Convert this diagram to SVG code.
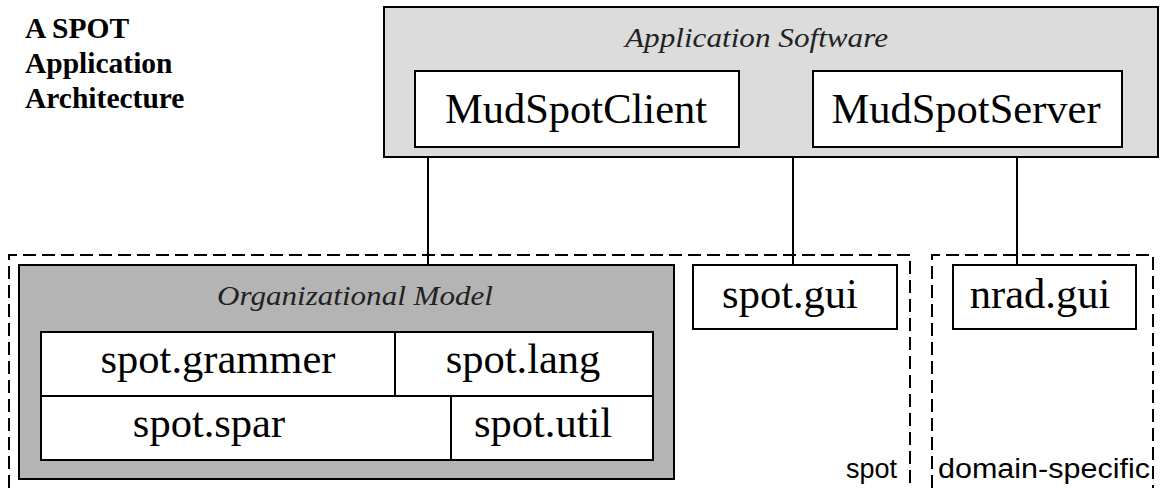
<svg xmlns="http://www.w3.org/2000/svg" width="1161" height="488" viewBox="0 0 1161 488">
<style>
.box{fill:#ffffff;stroke:#000;stroke-width:2}
.line{stroke:#000;stroke-width:2;fill:none}
.dash{stroke:#000;stroke-width:2;fill:none;stroke-dasharray:13 6}
.lbl{font-family:"Liberation Serif",serif;font-size:42.5px;fill:#000}
.ital{font-family:"Liberation Serif",serif;font-style:italic;font-size:27px;fill:#222}
.title{font-family:"Liberation Serif",serif;font-weight:bold;font-size:29.5px;fill:#000}
.pkg{font-family:"Liberation Sans",sans-serif;font-size:27px;fill:#000}
</style>
<rect width="1161" height="488" fill="#fff"/>
<g id="title">
<text class="title" x="25" y="38">A SPOT</text>
<text class="title" x="25" y="73">Application</text>
<text class="title" x="25" y="108">Architecture</text>
</g>
<g id="spot-pkg">
<path class="dash" d="M9,488 V255 H910 V488"/>
<text class="pkg" x="897" y="478" text-anchor="end">spot</text>
</g>
<g id="domain-pkg">
<path class="dash" d="M932,488 V255 H1153 V488"/>
<text class="pkg" x="938" y="478" textLength="212" lengthAdjust="spacingAndGlyphs">domain-specific</text>
</g>
<g id="connectors">
<line class="line" x1="739" y1="113.5" x2="813" y2="113.5"/>
<line class="line" x1="428" y1="157" x2="428" y2="265"/>
<line class="line" x1="793" y1="157" x2="793" y2="265"/>
<line class="line" x1="1017" y1="157" x2="1017" y2="265"/>
</g>
<g id="application-software">
<rect x="384" y="7" width="774" height="150" fill="#dcdcdc" stroke="#000" stroke-width="2"/>
<text class="ital" x="625" y="47" textLength="263" lengthAdjust="spacingAndGlyphs">Application  Software</text>
</g>
<g id="MudSpotClient">
<rect class="box" x="415" y="71" width="324" height="76"/>
<text class="lbl" x="576" y="123" text-anchor="middle">MudSpotClient</text>
</g>
<g id="MudSpotServer">
<rect class="box" x="813" y="71" width="309" height="76"/>
<text class="lbl" x="966" y="123" text-anchor="middle">MudSpotServer</text>
</g>
<g id="organizational-model">
<rect x="19" y="265" width="655" height="214" fill="#b4b4b4" stroke="#000" stroke-width="2"/>
<text class="ital" x="217" y="305" textLength="276" lengthAdjust="spacingAndGlyphs">Organizational  Model</text>
<rect class="box" x="41" y="332" width="612" height="128"/>
<line class="line" x1="41" y1="396" x2="653" y2="396"/>
<line class="line" x1="395" y1="332" x2="395" y2="396"/>
<line class="line" x1="451" y1="396" x2="451" y2="460"/>
</g>
<g id="spot-grammer"><text class="lbl" x="218" y="373" text-anchor="middle">spot.grammer</text></g>
<g id="spot-lang"><text class="lbl" x="523" y="373" text-anchor="middle">spot.lang</text></g>
<g id="spot-spar"><text class="lbl" x="209" y="437" text-anchor="middle">spot.spar</text></g>
<g id="spot-util"><text class="lbl" x="543" y="437" text-anchor="middle">spot.util</text></g>
<g id="spot-gui">
<rect class="box" x="693" y="265" width="204" height="64"/>
<text class="lbl" x="790" y="308" text-anchor="middle">spot.gui</text>
</g>
<g id="nrad-gui">
<rect class="box" x="953" y="265" width="183" height="64"/>
<text class="lbl" x="1040" y="308" text-anchor="middle">nrad.gui</text>
</g>
</svg>
